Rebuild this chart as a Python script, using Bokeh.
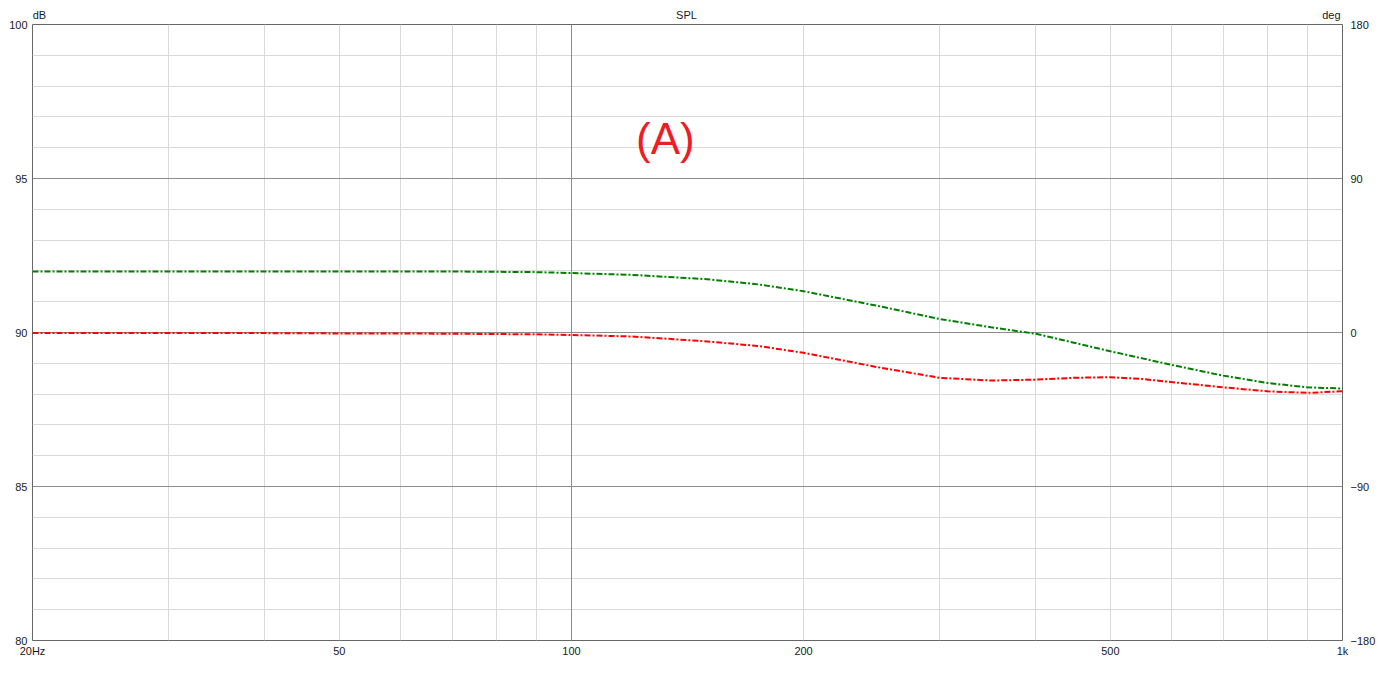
from bokeh.plotting import figure
from bokeh.models import (FixedTicker, LinearAxis, LogAxis, Range1d, Grid, Label)
from bokeh.embed import file_html
from bokeh.resources import INLINE

# ---- data ----
freq = [20, 30, 40, 50, 60, 70, 80, 90, 100, 120, 150, 175, 200, 250, 300,
        350, 400, 450, 500, 550, 600, 700, 800, 900, 1000]
green_db = [91.98, 91.98, 91.98, 91.98, 91.98, 91.98, 91.97, 91.96, 91.93, 91.87,
            91.73, 91.56, 91.34, 90.86, 90.44, 90.17, 89.96, 89.66, 89.39, 89.16,
            88.95, 88.60, 88.36, 88.22, 88.18]
red_db = [89.98, 89.98, 89.98, 89.97, 89.97, 89.96, 89.95, 89.94, 89.92, 89.87,
          89.71, 89.56, 89.34, 88.87, 88.53, 88.44, 88.47, 88.53, 88.55, 88.49,
          88.39, 88.22, 88.09, 88.04, 88.09]

x_ticks = [20, 50, 100, 200, 500, 1000]
x_tick_labels = ["20Hz", "50", "100", "200", "500", "1k"]
x_minor_grid = [30, 40, 50, 60, 70, 80, 90, 200, 300, 400, 500, 600, 700, 800, 900]
x_major_grid = [100]
y_ticks = [80, 85, 90, 95, 100]
y_minor_grid = [81, 82, 83, 84, 86, 87, 88, 89, 91, 92, 93, 94, 96, 97, 98, 99]
y_major_grid = [85, 90, 95]
deg_ticks = [-180, -90, 0, 90, 180]
header_texts = ["dB", "SPL", "deg"]

FONT = "Liberation Sans"
TXT = "#1a1a1a"

p = figure(frame_width=1310, frame_height=616, x_axis_type="log",
           x_range=(20, 1000), y_range=(80, 100),
           output_backend="svg", toolbar_location=None,
           min_border_left=32, min_border_top=24, min_border_right=26,
           min_border_bottom=30)
p.background_fill_color = "white"
p.border_fill_color = "white"
p.outline_line_color = "#666666"
p.outline_line_width = 1
p.xgrid.visible = False
p.ygrid.visible = False

for ticks, dim, col in [(x_minor_grid, 0, "#d9d9d9"), (y_minor_grid, 1, "#d9d9d9"),
                        (x_major_grid, 0, "#8c8c8c"), (y_major_grid, 1, "#8c8c8c")]:
    g = Grid(dimension=dim, ticker=FixedTicker(ticks=ticks),
             grid_line_color=col, grid_line_width=1)
    p.add_layout(g)

# axes
xa = p.xaxis[0]
xa.ticker = FixedTicker(ticks=x_ticks)
xa.major_label_overrides = {t: l for t, l in zip(x_ticks, x_tick_labels)}
ya = p.yaxis[0]
ya.ticker = FixedTicker(ticks=y_ticks)

p.extra_y_ranges = {"deg": Range1d(-180, 180)}
ra = LinearAxis(y_range_name="deg", ticker=FixedTicker(ticks=deg_ticks))
p.add_layout(ra, "right")

# header texts (unit labels and title) placed along the top edge
header_pos = [20.42, 141.0, 967.4]
ta = LogAxis(ticker=FixedTicker(ticks=header_pos))
ta.major_label_overrides = {t: s for t, s in zip(header_pos, header_texts)}
p.add_layout(ta, "above")

for ax in [xa, ya, ra, ta]:
    ax.axis_line_color = None
    ax.major_tick_line_color = None
    ax.minor_tick_line_color = None
    ax.major_tick_out = 0
    ax.major_tick_in = 0
    ax.minor_tick_out = 0
    ax.minor_tick_in = 0
    ax.major_label_text_font = FONT
    ax.major_label_text_font_size = "11px"
    ax.major_label_text_color = TXT
xa.major_label_standoff = 4
ya.major_label_standoff = 5
ra.major_label_standoff = 8
ta.major_label_standoff = 4

# curves
p.line(freq, green_db, line_color="#008000", line_width=2, line_dash="6 2 2 2")
p.line(freq, red_db, line_color="#ff0000", line_width=2, line_dash="6 2 2 2")

p.add_layout(Label(x=132.4, y=96.30, text="(A)", text_align="center",
                   text_baseline="middle", text_font=FONT, text_font_size="44px",
                   text_color="#ee1c25"))

open("out.html", "w").write(file_html(p, INLINE))
